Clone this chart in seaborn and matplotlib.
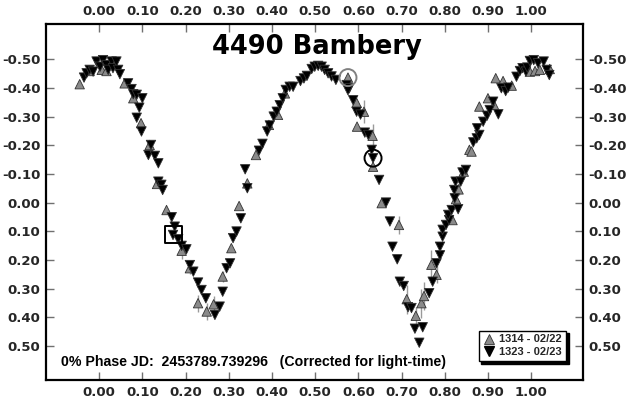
import numpy as np
import pandas as pd
import matplotlib
matplotlib.use("Agg")
import matplotlib.pyplot as plt
import seaborn as sns
from matplotlib.lines import Line2D

# ---------------- data ----------------
session_labels = ["1314 - 02/22", "1323 - 02/23"]

x_1314 = [-0.045, -0.022, 0.006, 0.017, 0.032, 0.059, 0.079, 0.097, 0.117, 0.134,
          0.156, 0.191, 0.210, 0.229, 0.249, 0.265, 0.286, 0.306, 0.324, 0.343,
          0.363, 0.393, 0.414, 0.430, 0.576, 0.596, 0.613, 0.597, 0.633, 0.634,
          0.654, 0.694, 0.712, 0.733, 0.746, 0.752, 0.769, 0.781, 0.818, 0.826,
          0.832, 0.844, 0.857, 0.862, 0.880, 0.900, 0.914, 0.918, 0.935, 0.955,
          0.997, 1.009, 1.020, 1.043]
y_1314 = [-0.413, -0.459, -0.463, -0.459, -0.492, -0.416, -0.364, -0.277, -0.201, -0.065,
          0.026, 0.168, 0.229, 0.351, 0.380, 0.355, 0.258, 0.159, 0.012, -0.067,
          -0.166, -0.271, -0.306, -0.381, -0.436, -0.348, -0.317, -0.265, -0.233, -0.125,
          0.002, 0.078, 0.337, 0.395, 0.351, 0.326, 0.217, 0.252, 0.061, -0.012,
          -0.046, -0.108, -0.184, -0.178, -0.335, -0.364, -0.341, -0.434, -0.424, -0.408,
          -0.457, -0.459, -0.463, -0.466]
err_1314 = [0, 0, 0, 0, 0, 0, 0, 0, 0, 0,
            0, 0.03, 0.02, 0.03, 0.03, 0.03, 0.02, 0, 0, 0,
            0, 0, 0, 0, 0, 0, 0.04, 0, 0.04, 0,
            0, 0.03, 0.05, 0.03, 0.05, 0.05, 0.05, 0.03, 0, 0,
            0.02, 0, 0, 0, 0, 0, 0, 0, 0, 0,
            0, 0, 0, 0]

x_1323 = [-0.035, -0.029, -0.022, -0.014, -0.006, 0.002, 0.009, 0.017, 0.021, 0.029,
          0.032, 0.040, 0.044, 0.048, 0.067, 0.075, 0.079, 0.087, 0.100, 0.093,
          0.087, 0.098, 0.120, 0.114, 0.129, 0.137, 0.137, 0.144, 0.147, 0.168,
          0.175, 0.171, 0.183, 0.191, 0.202, 0.210, 0.218, 0.229, 0.237, 0.247,
          0.268, 0.279, 0.286, 0.295, 0.303, 0.310, 0.318, 0.328, 0.343, 0.338,
          0.370, 0.378, 0.389, 0.395, 0.404, 0.411, 0.418, 0.425, 0.432, 0.441,
          0.449, 0.466, 0.474, 0.481, 0.492, 0.499, 0.507, 0.515, 0.522, 0.530,
          0.538, 0.548, 0.573, 0.579, 0.576, 0.588, 0.596, 0.605, 0.615, 0.623,
          0.631, 0.634, 0.648, 0.664, 0.673, 0.679, 0.690, 0.696, 0.705, 0.715,
          0.723, 0.731, 0.741, 0.749, 0.764, 0.772, 0.781, 0.789, 0.789, 0.795,
          0.795, 0.803, 0.810, 0.808, 0.816, 0.831, 0.823, 0.822, 0.825, 0.837,
          0.841, 0.849, 0.866, 0.874, 0.880, 0.875, 0.889, 0.898, 0.904, 0.912,
          0.924, 0.931, 0.941, 0.947, 0.966, 0.974, 0.980, 0.988, 0.991, 0.997,
          1.006, 1.016, 1.029, 1.036, 1.042]
y_1323 = [-0.436, -0.451, -0.463, -0.457, -0.492, -0.474, -0.497, -0.480, -0.463, -0.492,
          -0.469, -0.492, -0.463, -0.448, -0.416, -0.396, -0.378, -0.376, -0.364, -0.331,
          -0.296, -0.248, -0.201, -0.166, -0.163, -0.137, -0.073, -0.062, -0.044, 0.051,
          0.084, 0.113, 0.128, 0.151, 0.163, 0.218, 0.241, 0.279, 0.305, 0.334,
          0.392, 0.363, 0.311, 0.229, 0.212, 0.124, 0.101, 0.055, -0.050, -0.116,
          -0.181, -0.205, -0.248, -0.269, -0.300, -0.317, -0.340, -0.364, -0.393, -0.404,
          -0.404, -0.424, -0.433, -0.442, -0.466, -0.474, -0.477, -0.474, -0.463, -0.451,
          -0.440, -0.428, -0.410, -0.399, -0.392, -0.357, -0.317, -0.307, -0.244, -0.236,
          -0.184, -0.155, -0.079, 0.000, 0.066, 0.154, 0.198, 0.276, 0.291, 0.365,
          0.368, 0.440, 0.489, 0.435, 0.316, 0.276, 0.212, 0.184, 0.154, 0.119,
          0.095, 0.078, 0.061, 0.043, 0.026, 0.023, -0.015, -0.044, -0.073, -0.073,
          -0.105, -0.114, -0.210, -0.224, -0.236, -0.259, -0.282, -0.303, -0.323, -0.352,
          -0.308, -0.399, -0.389, -0.401, -0.439, -0.459, -0.469, -0.457, -0.471, -0.494,
          -0.497, -0.486, -0.492, -0.463, -0.445]

# highlighted (comparison) observations
hl_x = [0.171, 0.576, 0.634]
hl_y = [0.113, -0.436, -0.155]
hl_marker = ["s", "o", "o"]
hl_color = ["black", "#808080", "black"]

x_ticks = [0.0, 0.1, 0.2, 0.3, 0.4, 0.5, 0.6, 0.7, 0.8, 0.9, 1.0]
y_ticks = [-0.5, -0.4, -0.3, -0.2, -0.1, 0.0, 0.1, 0.2, 0.3, 0.4, 0.5]

title_text = "4490 Bambery"
note_text = "0% Phase JD:  2453789.739296   (Corrected for light-time)"

# ---------------- build frame ----------------
df = pd.concat([
    pd.DataFrame({"phase": x_1314, "mag": y_1314, "err": err_1314, "session": session_labels[0]}),
    pd.DataFrame({"phase": x_1323, "mag": y_1323, "err": 0.0, "session": session_labels[1]}),
], ignore_index=True)

sns.set_style("white")
plt.rcParams["font.family"] = ["DejaVu Sans"]

fig = plt.figure(figsize=(6.29, 4.04), dpi=100)
ax = fig.add_axes([46 / 629, 1 - 380 / 404, 537 / 629, 356 / 404])

gray_face = "#8a8a8a"

# error bars for points that have them
eb = df[df["err"] > 0]
ax.errorbar(eb["phase"], eb["mag"], yerr=eb["err"], fmt="none",
            ecolor="#9a9a9a", elinewidth=1.0, capsize=0, zorder=2)

palette = {session_labels[0]: gray_face, session_labels[1]: "black"}
markers = {session_labels[0]: "^", session_labels[1]: "v"}
sns.scatterplot(data=df, x="phase", y="mag", hue="session", style="session",
                palette=palette, markers=markers, hue_order=session_labels,
                style_order=session_labels, s=46, linewidth=0.6,
                edgecolor="#333333", legend=False, ax=ax, zorder=3)

for xx, yy, mk, col in zip(hl_x, hl_y, hl_marker, hl_color):
    ax.scatter([xx], [yy], marker=mk, s=150, facecolors="none",
               edgecolors=col, linewidths=1.4, zorder=4)

ax.set_xlim(-0.123, 1.12)
ax.set_ylim(0.619, -0.623)
ax.set_xlabel("")
ax.set_ylabel("")

ax.set_xticks(x_ticks)
ax.set_yticks(y_ticks)
ax.set_xticklabels([f"{v:.2f}" for v in x_ticks])
ax.set_yticklabels([f"{v:.2f}" for v in y_ticks])
ax.tick_params(axis="both", which="both", direction="in", length=6, width=1,
               color="#707070", labelsize=9.5, pad=4,
               top=True, bottom=True, left=True, right=True,
               labeltop=True, labelbottom=True, labelleft=True, labelright=True)
for t in ax.xaxis.get_major_ticks() + ax.yaxis.get_major_ticks():
    t.label1.set_fontweight("bold")
    t.label2.set_fontweight("bold")

for sp in ax.spines.values():
    sp.set_visible(True)
    sp.set_color("black")
    sp.set_linewidth(1.6)

ax.text(0.505, 0.935, title_text, transform=ax.transAxes, ha="center", va="center",
        fontsize=18.5, fontweight="bold", color="black")
ax.text(0.028, 0.05, note_text, transform=ax.transAxes, ha="left", va="center",
        fontsize=10.2, fontweight="bold", family=["Liberation Sans"], color="black")

handles = [
    Line2D([], [], marker="^", linestyle="none", markerfacecolor=gray_face,
           markeredgecolor="#333333", markeredgewidth=0.6, markersize=7),
    Line2D([], [], marker="v", linestyle="none", markerfacecolor="black",
           markeredgecolor="black", markersize=7),
]
leg = ax.legend(handles, session_labels, loc="lower right",
                bbox_to_anchor=(0.968, 0.053), borderaxespad=0, frameon=True,
                fancybox=False, shadow={"color": "black", "alpha": 1.0},
                prop={"family": "Liberation Sans", "weight": "bold", "size": 8},
                handletextpad=0.3, borderpad=0.35, labelspacing=0.25,
                handlelength=1.2)
leg.get_frame().set_edgecolor("black")
leg.get_frame().set_linewidth(1.0)

fig.savefig("out.png", dpi=100, facecolor="white")
